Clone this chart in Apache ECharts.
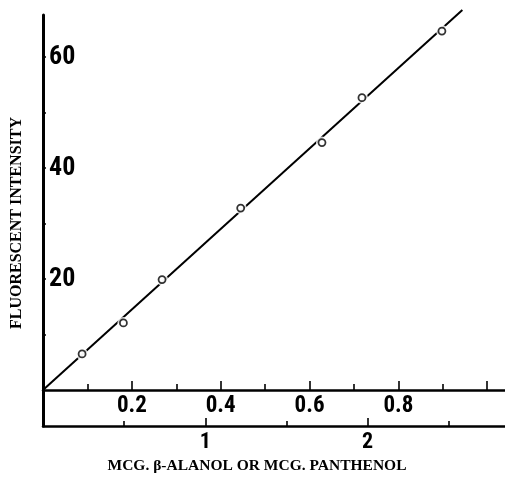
<!DOCTYPE html>
<html>
<head>
<meta charset="utf-8">
<script src="https://cdn.jsdelivr.net/npm/echarts@6/dist/echarts.min.js"></script>
<style>html,body{margin:0;padding:0;background:#fff}#c{width:505px;height:478px}</style>
</head>
<body>
<div id="c"></div>
<script>
// Data
const alanolMcg = [0.088, 0.181, 0.268, 0.445, 0.628, 0.718, 0.898];
const intensity = [6.5, 12.1, 19.9, 32.8, 44.6, 52.7, 64.7];
const fitAlanol = [0, 0.944];
const fitIntensity = [0, 68.5];
const alanolMajorTicks = [0.2, 0.4, 0.6, 0.8, 1.0];
const alanolMinorTicks = [0.1, 0.3, 0.5, 0.7, 0.9];
const alanolLabels = [0.2, 0.4, 0.6, 0.8];
const panthenolMajorTicks = [1, 2];
const panthenolMinorTicks = [0.5, 1.5, 2.5];
const panthenolLabels = [1, 2];
const intensityTicks = [10, 20, 30, 40, 50, 60];
const intensityLabels = [20, 40, 60];
const yTitle = 'FLUORESCENT INTENSITY';
const xTitle = 'MCG. \u03B2-ALANOL OR MCG. PANTHENOL';

const points = alanolMcg.map((x, i) => [x, intensity[i]]);
const fitLine = fitAlanol.map((x, i) => [x, fitIntensity[i]]);

const narrow = "'Roboto Condensed', 'Open Sans Condensed', 'DejaVu Sans Condensed', sans-serif";
const serif = "'Liberation Serif', 'DejaVu Serif', serif";
const black = '#000';

const chart = echarts.init(document.getElementById('c'), null, {renderer: 'canvas'});
chart.setOption({
  animation: false,
  backgroundColor: '#fff',
  grid: [
    {left: 43, right: 0, top: 15, bottom: 88},
    {left: 43, right: 0, top: 390, bottom: 52}
  ],
  xAxis: [
    {
      gridIndex: 0, type: 'value', min: 0, max: 1.04, position: 'bottom',
      axisLine: {show: true, onZero: false, lineStyle: {color: black, width: 2.5}},
      axisTick: {show: true, inside: true, length: 9, customValues: alanolMajorTicks, lineStyle: {color: black, width: 1.6}},
      axisLabel: {show: true, customValues: alanolLabels, formatter: v => v.toFixed(1), margin: 5,
        fontFamily: narrow, fontWeight: 'bold', fontSize: 23, color: black},
      splitLine: {show: false}
    },
    {
      gridIndex: 0, type: 'value', min: 0, max: 1.04, position: 'bottom',
      axisLine: {show: false, onZero: false},
      axisTick: {show: true, inside: true, length: 6, customValues: alanolMinorTicks, lineStyle: {color: black, width: 1.6}},
      axisLabel: {show: false},
      splitLine: {show: false}
    },
    {
      gridIndex: 1, type: 'value', min: 0, max: 2.847, position: 'bottom',
      axisLine: {show: true, onZero: false, lineStyle: {color: black, width: 2.5}},
      axisTick: {show: true, inside: true, length: 8, customValues: panthenolMajorTicks, lineStyle: {color: black, width: 1.6}},
      axisLabel: {show: true, customValues: panthenolLabels, formatter: v => String(v), margin: 5,
        fontFamily: narrow, fontWeight: 'bold', fontSize: 22, color: black},
      splitLine: {show: false}
    },
    {
      gridIndex: 1, type: 'value', min: 0, max: 2.847, position: 'bottom',
      axisLine: {show: false, onZero: false},
      axisTick: {show: true, inside: true, length: 5, customValues: panthenolMinorTicks, lineStyle: {color: black, width: 1.6}},
      axisLabel: {show: false},
      splitLine: {show: false}
    }
  ],
  yAxis: [
    {
      gridIndex: 0, type: 'value', min: 0, max: 67.6, position: 'left',
      axisLine: {show: true, onZero: false, lineStyle: {color: black, width: 3}},
      axisTick: {show: true, inside: true, length: 3, customValues: intensityTicks, lineStyle: {color: black, width: 1.5}},
      axisLabel: {show: true, inside: true, customValues: intensityLabels, margin: 6,
        fontFamily: narrow, fontWeight: 'bold', fontSize: 26, color: black},
      splitLine: {show: false}
    },
    {
      gridIndex: 1, type: 'value', min: 0, max: 1, position: 'left',
      axisLine: {show: true, onZero: false, lineStyle: {color: black, width: 3}},
      axisTick: {show: false},
      axisLabel: {show: false},
      splitLine: {show: false}
    }
  ],
  series: [
    {
      type: 'line', xAxisIndex: 0, yAxisIndex: 0, data: fitLine,
      showSymbol: false, clip: false, z: 2,
      lineStyle: {color: black, width: 2}
    },
    {
      type: 'scatter', xAxisIndex: 0, yAxisIndex: 0, data: points,
      symbol: 'circle', symbolSize: 12, z: 3, silent: true,
      itemStyle: {color: '#fff', borderWidth: 0}
    },
    {
      type: 'scatter', xAxisIndex: 0, yAxisIndex: 0, data: points,
      symbol: 'circle', symbolSize: 7, z: 4,
      itemStyle: {color: '#fff', borderColor: black, borderWidth: 1.8}
    }
  ],
  graphic: [
    {
      type: 'text', x: 17, y: 223, rotation: Math.PI / 2,
      style: {text: yTitle, fontFamily: serif, fontWeight: 'bold', fontSize: 16, fill: black,
        align: 'center', verticalAlign: 'middle'}
    },
    {
      type: 'text', x: 257, y: 466,
      style: {text: xTitle, fontFamily: serif, fontWeight: 'bold', fontSize: 15.5, fill: black,
        align: 'center', verticalAlign: 'middle'}
    }
  ]
});
</script>
</body>
</html>
